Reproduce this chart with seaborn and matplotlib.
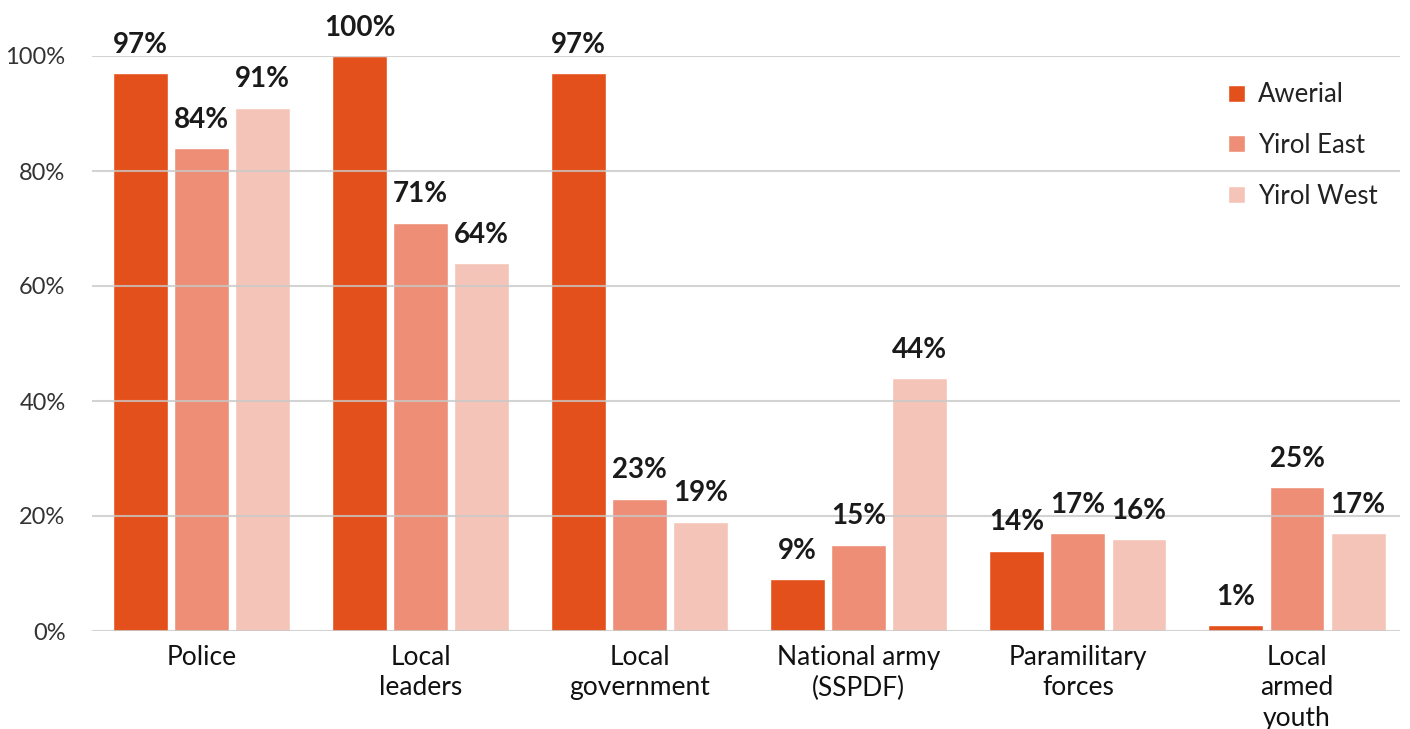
import matplotlib
matplotlib.use("Agg")
import matplotlib.pyplot as plt
import seaborn as sns
import pandas as pd

categories = ["Police", "Local\nleaders", "Local\ngovernment",
              "National army\n(SSPDF)", "Paramilitary\nforces", "Local\narmed\nyouth"]
awerial = [97, 100, 97, 9, 14, 1]
yirol_east = [84, 71, 23, 15, 17, 25]
yirol_west = [91, 64, 19, 44, 16, 17]
series_names = ["Awerial", "Yirol East", "Yirol West"]
colors = ["#E4501B", "#EE8E76", "#F5C4B8"]
yticks = [0, 20, 40, 60, 80, 100]
ytick_labels = ["0%", "20%", "40%", "60%", "80%", "100%"]

df = pd.DataFrame({
    "category": categories * 3,
    "value": awerial + yirol_east + yirol_west,
    "county": [s for s in series_names for _ in categories],
})

sns.set_theme(style="white")
plt.rcParams["font.family"] = ["Lato", "DejaVu Sans"]

fig = plt.figure(figsize=(14.1, 7.29), dpi=100)
ax = fig.add_axes([92 / 1410, 1 - 631 / 729, (1400 - 92) / 1410, (631 - 56) / 729])

sns.barplot(data=df, x="category", y="value", hue="county", palette=colors,
            width=0.836, gap=0.1, order=categories, hue_order=series_names,
            saturation=1, ax=ax, zorder=1)

for container in ax.containers:
    ax.bar_label(container, labels=[f"{v:.0f}%" for v in container.datavalues],
                 padding=11, fontsize=20, fontweight="bold", color="#1a1a1a",
                 clip_on=False)

ax.set_ylim(0, 100)
ax.set_xlim(-0.5, 5.47)
ax.set_yticks(yticks)
ax.set_yticklabels(ytick_labels, fontsize=17, color="#333333")
ax.tick_params(axis="y", length=0, pad=19)
ax.tick_params(axis="x", length=0, pad=10, labelsize=19, labelcolor="#111111")
for lbl in ax.get_xticklabels():
    lbl.set_linespacing(1.28)
ax.set_xlabel("")
ax.set_ylabel("")
for s in ax.spines.values():
    s.set_visible(False)
ax.yaxis.grid(True, color="#c8c8c8", linewidth=1.5, alpha=0.8, zorder=3)
ax.set_axisbelow(False)
for bar in ax.patches:
    bar.set_zorder(1)

leg = ax.legend(loc="upper left", bbox_to_anchor=(1205 / 1410, 1 - 59 / 729),
                bbox_transform=fig.transFigure, frameon=False, fontsize=18.5,
                handlelength=0.65, handleheight=0.65, handletextpad=0.5,
                labelspacing=1.0, title=None)
for t in leg.get_texts():
    t.set_color("#222222")

fig.savefig("out.png", dpi=100, facecolor="white")
